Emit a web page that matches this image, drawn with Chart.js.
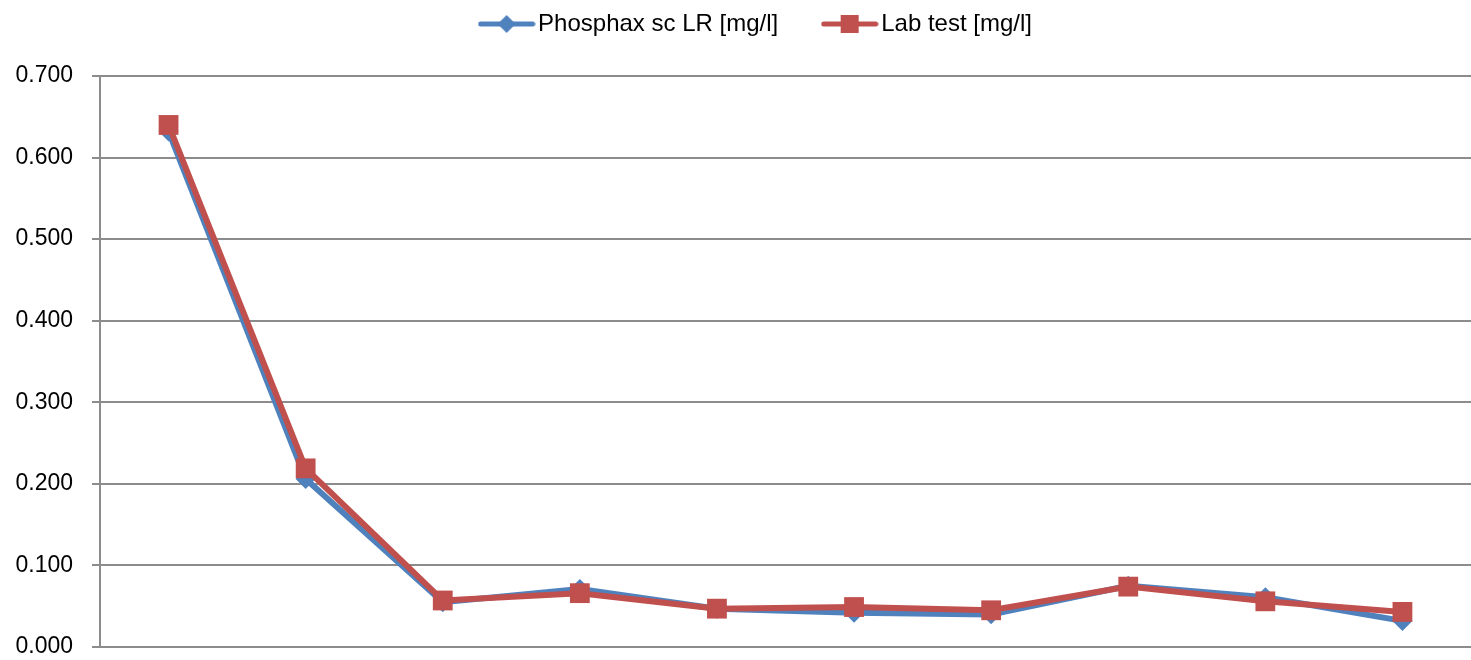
<!DOCTYPE html>
<html>
<head>
<meta charset="utf-8">
<script src="https://cdn.jsdelivr.net/npm/chart.js@4.4.1/dist/chart.umd.min.js"></script>
<style>
  html, body { margin: 0; padding: 0; background: #fff; overflow: hidden; }
  #wrap { width: 1471px; height: 660px; }
</style>
</head>
<body>
<div id="wrap"><canvas id="myChart"></canvas></div>
<script>
var samples = ["1", "2", "3", "4", "5", "6", "7", "8", "9", "10"];
var phosphaxValues = [0.632, 0.206, 0.055, 0.071, 0.047, 0.042, 0.040, 0.075, 0.061, 0.032];
var labValues = [0.640, 0.219, 0.057, 0.066, 0.047, 0.049, 0.045, 0.074, 0.056, 0.043];
var seriesNames = ["Phosphax sc LR [mg/l]", "Lab test [mg/l]"];

var blue = "#4F81BD";
var red = "#C0504D";

// legend swatch: a short line with the marker in the middle
function legendIcon(color, marker) {
  var c = document.createElement("canvas");
  c.width = 58;
  c.height = 22;
  var g = c.getContext("2d");
  g.strokeStyle = color;
  g.lineWidth = 5;
  g.lineCap = "round";
  g.beginPath();
  g.moveTo(3, 11);
  g.lineTo(55, 11);
  g.stroke();
  g.fillStyle = color;
  if (marker == "diamond") {
    g.beginPath();
    g.moveTo(29, 2);
    g.lineTo(38, 11);
    g.lineTo(29, 20);
    g.lineTo(20, 11);
    g.closePath();
    g.fill();
  } else {
    g.fillRect(20, 2, 18, 18);
  }
  return c;
}
var icons = [legendIcon(blue, "diamond"), legendIcon(red, "square")];

var ctx = document.getElementById("myChart").getContext("2d");
var chart = new Chart(ctx, {
  type: "line",
  data: {
    labels: samples,
    datasets: [{
      label: seriesNames[0],
      data: phosphaxValues,
      borderColor: blue,
      backgroundColor: blue,
      borderWidth: 6,
      pointStyle: "rectRot",
      pointRadius: 10,
      pointHoverRadius: 10,
      pointBorderWidth: 0,
      tension: 0,
      fill: false,
      order: 1
    }, {
      label: seriesNames[1],
      data: labValues,
      borderColor: red,
      backgroundColor: red,
      borderWidth: 6,
      pointStyle: "rect",
      pointRadius: 14,
      pointHoverRadius: 14,
      pointBorderWidth: 0,
      tension: 0,
      fill: false,
      order: 0
    }]
  },
  options: {
    responsive: true,
    maintainAspectRatio: false,
    animation: false,
    layout: { autoPadding: false, padding: { left: 12, right: 0, top: -40, bottom: 13 } },
    plugins: {
      legend: {
        display: true,
        position: "top",
        labels: {
          usePointStyle: true,
          pointStyleWidth: 39,
          color: "#000",
          font: { family: "Liberation Sans", size: 24 },
          padding: 52,
          generateLabels: function (chart) {
            return chart.data.datasets.map(function (ds, i) {
              return {
                text: ds.label,
                pointStyle: icons[i],
                fillStyle: ds.borderColor,
                strokeStyle: ds.borderColor,
                lineWidth: 0,
                fontColor: "#000",
                datasetIndex: i,
                hidden: false
              };
            });
          }
        }
      },
      tooltip: { enabled: false }
    },
    scales: {
      x: {
        offset: true,
        grid: { display: false, drawTicks: false },
        border: { display: false },
        ticks: { display: false }
      },
      y: {
        min: 0,
        max: 0.7,
        afterFit: function (s) {
          s.width = 88;
          s.paddingTop = 0;
          s.paddingBottom = 0;
        },
        ticks: {
          stepSize: 0.1,
          color: "#000",
          padding: 19,
          font: { family: "Liberation Sans", size: 23 },
          callback: function (v) { return v.toFixed(3); }
        },
        grid: { color: "#8c8c8c", lineWidth: 2, tickLength: 8 },
        border: { color: "#8c8c8c", width: 2 }
      }
    }
  }
});

// extra room under the legend, and the legend sits a bit right of centre
var legendFit = chart.legend.fit;
chart.legend.fit = function () {
  legendFit.call(this);
  this.height += 30;
};
var legendDraw = chart.legend.draw;
chart.legend.draw = function () {
  this.left += 36;
  legendDraw.call(this);
  this.left -= 36;
};
chart.update();
</script>
</body>
</html>
